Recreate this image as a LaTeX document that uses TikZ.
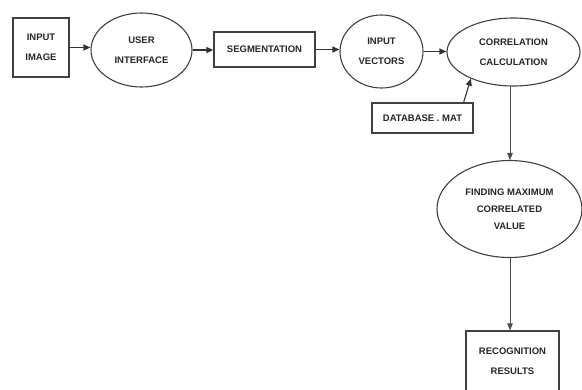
\documentclass[tikz,border=0pt]{standalone}
\usepackage{fontspec}
\setmainfont{Liberation Sans}
\usetikzlibrary{shapes.geometric,arrows.meta,calc}
\tikzset{
  lbl/.style={font=\fontsize{9.5}{20}\selectfont\bfseries, align=center, text=black!85, inner sep=0pt},
  sq/.style={lbl, draw=black!75, line width=1.3pt, rectangle},
  ell/.style={lbl, draw=black!75, line width=1.1pt, ellipse, inner sep=0pt},
  arr/.style={draw=black!80, line width=1.1pt, -{Triangle[length=7pt,width=6pt]}},
  varr/.style={draw=black!70, line width=0.8pt, -{Triangle[length=7pt,width=5.5pt]}}
}
\begin{document}
\begin{tikzpicture}[x=1pt,y=-1pt]
\useasboundingbox[fill=white] (0,0) rectangle (582,389);
\node[sq, minimum width=56pt, minimum height=59pt] (img) at (41,47.5) {INPUT\\IMAGE};
\node[ell, minimum width=101pt, minimum height=74pt] (ui) at (141.5,50) {USER\\INTERFACE};
\node[sq, minimum width=101pt, minimum height=35pt] (seg) at (264.5,49.5) {SEGMENTATION};
\node[ell, minimum width=83pt, minimum height=73pt] (iv) at (381.5,51.5) {INPUT\\VECTORS};
\node[ell, minimum width=133pt, minimum height=68pt] (cc) at (513.5,52) {CORRELATION\\CALCULATION};
\node[sq, minimum width=101pt, minimum height=30pt] (db) at (422.5,118) {DATABASE . MAT};
\node[ell, minimum width=145pt, minimum height=97pt, font=\fontsize{9.5}{17}\selectfont\bfseries] (fm) at (509.5,209) {FINDING MAXIMUM\\CORRELATED\\VALUE};
\node[sq, minimum width=93pt, minimum height=60pt] (rr) at (512.5,361) {RECOGNITION\\RESULTS};
\draw[arr] (img.east) -- (img.east -| ui.west);
\draw[arr] (ui.east) -- (ui.east -| seg.west);
\draw[arr] (seg.east) -- (seg.east -| iv.west);
\draw[arr] (iv.east) -- (iv.east -| cc.west);
\draw[arr] ($(db.north east)+(-10,0)$) -- (cc.212);
\draw[varr] (cc.south -| 510,0) -- (fm.north -| 510,0);
\draw[varr] (fm.south -| 510,0) -- (rr.north -| 510,0);
\end{tikzpicture}
\end{document}
